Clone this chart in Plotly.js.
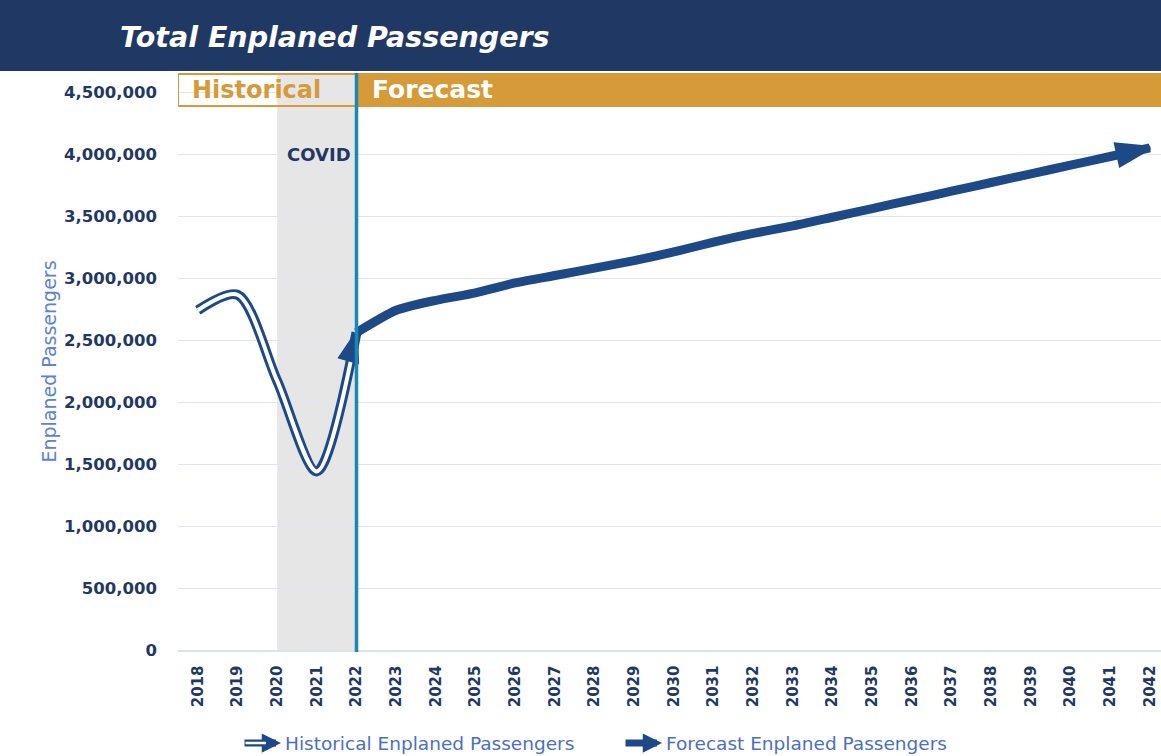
<!DOCTYPE html>
<html><head><meta charset="utf-8">
<script src="https://cdn.plot.ly/plotly-3.0.1.min.js"></script>
<style>html,body{margin:0;padding:0;background:#fff}#chart{width:1161px;height:756px}</style>
</head><body><div id="chart"></div>
<script>
const histYears = [2018, 2019, 2020, 2021, 2022];
const histValues = [2740000, 2865000, 2170000, 1440000, 2560000];
const fcstYears = [2022,2023,2024,2025,2026,2027,2028,2029,2030,2031,2032,2033,2034,2035,2036,2037,2038,2039,2040,2041,2042];
const fcstValues = [2560000,2740000,2820000,2880000,2960000,3020000,3080000,3140000,3210000,3290000,3360000,3420000,3490000,3560000,3630000,3700000,3770000,3840000,3910000,3980000,4050000];
const yTicks = [0,500000,1000000,1500000,2000000,2500000,3000000,3500000,4000000,4500000];
const yTickText = ["0","500,000","1,000,000","1,500,000","2,000,000","2,500,000","3,000,000","3,500,000","4,000,000","4,500,000"];
const allYears = [2018,2019,2020,2021].concat(fcstYears);
const covidStart = 2020, forecastStart = 2022;
const titleText = "Total Enplaned Passengers";
const histLabel = "Historical Enplaned Passengers";
const fcstLabel = "Forecast Enplaned Passengers";

const NAVY = "#1f3864", LINE = "#1d4a87", ORANGE = "#d69a38", TEAL = "#1b87b3", LEG = "#4a6fc6";
const FONT = "'DejaVu Sans', sans-serif";

const W = 1161, H = 756, L = 178, R = 0, T = 73, B = 106;
const ph = H - T - B, pw = W - L - R;
const py = px => (H - B - px) / ph;   // pixel y -> paper y
const pxp = px => (px - L) / pw;       // pixel x -> paper x

const nH = histYears.length, nF = fcstYears.length;
const traces = [
  {x: histYears, y: histValues, mode: "lines", line: {color: LINE, width: 10, shape: "spline", smoothing: 0.85}, hoverinfo: "skip"},
  {x: histYears, y: histValues, mode: "lines", line: {color: "#ffffff", width: 4, shape: "spline", smoothing: 0.85}, hoverinfo: "skip"},
  {x: histYears.slice(nH - 2), y: histValues.slice(nH - 2), mode: "markers", hoverinfo: "skip",
   marker: {symbol: "arrow", angleref: "previous", size: [0, 30], color: LINE, opacity: [0, 1], line: {width: 3, color: LINE}}},
  {x: fcstYears, y: fcstValues, mode: "lines", line: {color: LINE, width: 9, shape: "spline", smoothing: 0.6}, hoverinfo: "skip"},
  {x: fcstYears.slice(nF - 2), y: fcstValues.slice(nF - 2), mode: "markers", hoverinfo: "skip",
   marker: {symbol: "arrow", angleref: "previous", size: [0, 34], color: LINE, opacity: [0, 1], line: {width: 4, color: LINE}}}
];

const annotations = [
  {xref: "paper", yref: "paper", x: pxp(118), y: py(37), xanchor: "left", yanchor: "middle", showarrow: false,
   text: "<b><i>" + titleText + "</i></b>", font: {family: FONT, size: 28.5, color: "#ffffff"}},
  {xref: "x", yref: "paper", x: histYears[0] - 0.5, y: py(90), xanchor: "left", yanchor: "middle", showarrow: false, xshift: 12,
   text: "<b>Historical</b>", font: {family: FONT, size: 24, color: ORANGE}},
  {xref: "x", yref: "paper", x: forecastStart, y: py(90), xanchor: "left", yanchor: "middle", showarrow: false, xshift: 13,
   text: "<b>Forecast</b>", font: {family: FONT, size: 25, color: "#ffffff"}},
  {xref: "x", yref: "y", x: (covidStart + forecastStart) / 2, y: 4000000, xanchor: "center", yanchor: "middle", showarrow: false, xshift: 2,
   text: "<b>COVID</b>", font: {family: FONT, size: 18, color: NAVY}},
  // legend
  {xref: "paper", yref: "paper", x: pxp(281), y: py(743), ax: -38, ay: 0, text: "", showarrow: true,
   arrowhead: 2, arrowsize: 0.55, arrowwidth: 7, arrowcolor: LINE},
  {xref: "paper", yref: "paper", x: pxp(266), y: py(743), ax: -22, ay: 0, text: "", showarrow: true,
   arrowhead: 0, arrowwidth: 2.5, arrowcolor: "#ffffff"},
  {xref: "paper", yref: "paper", x: pxp(283), y: py(743), xanchor: "left", yanchor: "middle", showarrow: false,
   text: histLabel, font: {family: FONT, size: 18.5, color: LEG}},
  {xref: "paper", yref: "paper", x: pxp(662), y: py(743), ax: -38, ay: 0, text: "", showarrow: true,
   arrowhead: 2, arrowsize: 0.55, arrowwidth: 7, arrowcolor: LINE},
  {xref: "paper", yref: "paper", x: pxp(664), y: py(743), xanchor: "left", yanchor: "middle", showarrow: false,
   text: fcstLabel, font: {family: FONT, size: 18.5, color: LEG}}
];

const shapes = [
  {type: "rect", xref: "paper", yref: "paper", x0: pxp(0), x1: 1, y0: py(71), y1: py(0), fillcolor: NAVY, line: {width: 0}, layer: "above"},
  {type: "rect", xref: "x", yref: "paper", x0: covidStart, x1: forecastStart, y0: 0, y1: 1, fillcolor: "#e6e6e7", line: {width: 0}, layer: "below"},
  {type: "rect", xref: "x", yref: "paper", x0: forecastStart, x1: 2042.3, y0: py(107), y1: 1, fillcolor: ORANGE, line: {width: 0}, layer: "above"},
  {type: "rect", xref: "x", yref: "paper", x0: histYears[0] - 0.5, x1: forecastStart, y0: py(106), y1: py(74), fillcolor: "rgba(0,0,0,0)", line: {color: ORANGE, width: 2}, layer: "above"},
  {type: "line", xref: "x", yref: "paper", x0: forecastStart, x1: forecastStart, y0: py(652), y1: 1, line: {color: TEAL, width: 3.5}, layer: "above"}
];

const layout = {
  width: W, height: H,
  margin: {l: L, r: R, t: T, b: B},
  paper_bgcolor: "#ffffff", plot_bgcolor: "#ffffff",
  showlegend: false,
  xaxis: {range: [2017.5, 2042.28], tickmode: "array", tickvals: allYears, ticktext: allYears.map(String),
          tickangle: -90, tickfont: {family: FONT, size: 15, color: NAVY, weight: "bold"},
          showgrid: false, zeroline: false, showline: true, linecolor: "#dbe2ea", linewidth: 1.5, ticks: "", ticklabelstandoff: 8, fixedrange: true},
  yaxis: {range: [0, (H - B - T) / 0.124 * 1000], tickmode: "array", tickvals: yTicks, ticktext: yTickText,
          tickfont: {family: FONT, size: 16.5, color: NAVY, weight: "bold"}, ticklabelstandoff: 20,
          showgrid: true, gridcolor: "#dfe6ee", gridwidth: 1, zeroline: false, showline: false, ticks: "",
          title: {text: "Enplaned Passengers", font: {family: FONT, size: 19, color: "#5b82d6"}, standoff: 2}, fixedrange: true},
  shapes: shapes,
  annotations: annotations
};

Plotly.newPlot("chart", traces, layout, {displayModeBar: false, staticPlot: true});
</script></body></html>
